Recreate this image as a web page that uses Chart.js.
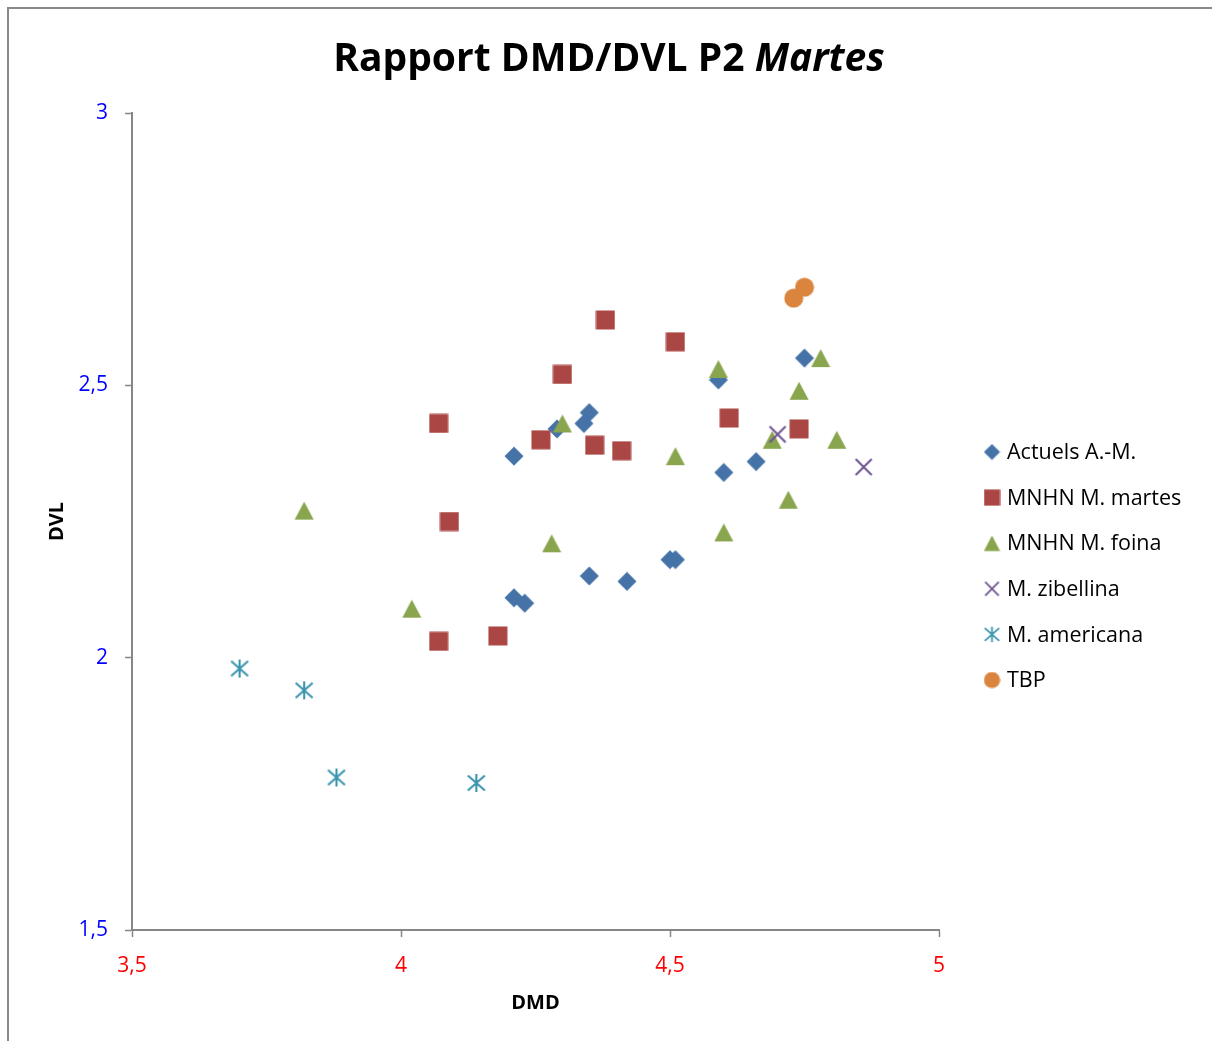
<!DOCTYPE html>
<html>
<head>
<meta charset="utf-8">
<title>Rapport DMD/DVL P2 Martes</title>
<script src="https://cdn.jsdelivr.net/npm/chart.js@4.4.1/dist/chart.umd.min.js"></script>
<style>
  html, body { margin: 0; padding: 0; background: #fff; overflow: hidden; }
  #frame { position: absolute; left: 7px; top: 7px; width: 1300px; height: 1100px; border: 2px solid #898989; }
  #wrap { position: absolute; left: 0; top: 0; width: 1212px; height: 1041px; }
</style>
</head>
<body>
<div id="frame"></div>
<div id="wrap"><canvas id="chart" width="1212" height="1041"></canvas></div>
<script>
// axis ticks
const xTicks = [3.5, 4, 4.5, 5];
const yTicks = [1.5, 2, 2.5, 3];

// DMD (x) / DVL (y) per group
const actuelsDMD = [4.21, 4.29, 4.34, 4.35, 4.59, 4.75, 4.60, 4.66, 4.21, 4.23, 4.35, 4.42, 4.50, 4.51];
const actuelsDVL = [2.37, 2.42, 2.43, 2.45, 2.51, 2.55, 2.34, 2.36, 2.11, 2.10, 2.15, 2.14, 2.18, 2.18];

const martesDMD = [4.38, 4.51, 4.30, 4.07, 4.26, 4.36, 4.41, 4.61, 4.74, 4.09, 4.07, 4.18];
const martesDVL = [2.62, 2.58, 2.52, 2.43, 2.40, 2.39, 2.38, 2.44, 2.42, 2.25, 2.03, 2.04];

const foinaDMD = [3.82, 4.02, 4.28, 4.30, 4.51, 4.59, 4.60, 4.69, 4.74, 4.78, 4.81, 4.72];
const foinaDVL = [2.27, 2.09, 2.21, 2.43, 2.37, 2.53, 2.23, 2.40, 2.49, 2.55, 2.40, 2.29];

const zibellinaDMD = [4.70, 4.86];
const zibellinaDVL = [2.41, 2.35];

const americanaDMD = [3.70, 3.82, 3.88, 4.14];
const americanaDVL = [1.98, 1.94, 1.78, 1.77];

const tbpDMD = [4.73, 4.75];
const tbpDVL = [2.66, 2.68];

const seriesNames = ['Actuels A.-M.', 'MNHN M. martes', 'MNHN M. foina', 'M. zibellina', 'M. americana', 'TBP'];
const seriesX = [actuelsDMD, martesDMD, foinaDMD, zibellinaDMD, americanaDMD, tbpDMD];
const seriesY = [actuelsDVL, martesDVL, foinaDVL, zibellinaDVL, americanaDVL, tbpDVL];

const colors = ['#4572A7', '#AA4643', '#89A54E', '#6E5590', '#3A94AD', '#DB843D'];
const shapes = ['diamond', 'square', 'triangle', 'cross', 'star', 'circle'];

const FONT = '"Open Sans", "DejaVu Sans", sans-serif';

// Excel-like marker drawn on a small canvas, used as pointStyle
function makeMarker(shape, color, scale) {
  const size = Math.round(20 * scale);
  const c = document.createElement('canvas');
  c.width = size;
  c.height = size;
  const g = c.getContext('2d');
  g.scale(scale, scale);
  g.fillStyle = color;
  g.strokeStyle = color;
  g.lineWidth = 2.1;
  g.beginPath();
  switch (shape) {
    case 'diamond':
      g.moveTo(10, 0.5); g.lineTo(19.5, 10); g.lineTo(10, 19.5); g.lineTo(0.5, 10);
      g.closePath(); g.fill();
      break;
    case 'square':
      g.rect(0.5, 0.5, 19, 19); g.fill();
      break;
    case 'triangle':
      g.moveTo(10, 1); g.lineTo(19.5, 19); g.lineTo(0.5, 19);
      g.closePath(); g.fill();
      break;
    case 'cross':
      g.moveTo(2, 2); g.lineTo(18, 18);
      g.moveTo(18, 2); g.lineTo(2, 18);
      g.stroke();
      break;
    case 'star':
      g.moveTo(10, 1); g.lineTo(10, 19);
      g.moveTo(1.5, 2.5); g.lineTo(18.5, 17.5);
      g.moveTo(18.5, 2.5); g.lineTo(1.5, 17.5);
      g.stroke();
      break;
    default:
      g.arc(10, 10, 9.5, 0, Math.PI * 2); g.fill();
  }
  return c;
}

const legendMarkers = shapes.map((s, i) => makeMarker(s, colors[i], 0.85));

const datasets = seriesNames.map((name, i) => ({
  label: name,
  data: seriesX[i].map((x, j) => ({ x: x, y: seriesY[i][j] })),
  pointStyle: makeMarker(shapes[i], colors[i], 1),
  backgroundColor: colors[i],
  borderColor: colors[i],
  // later series sit on top, as in the workbook
  order: seriesNames.length - i
}));

const titlePlugin = {
  id: 'mixedTitle',
  afterDraw(chart) {
    const ctx = chart.ctx;
    const parts = [
      { text: 'Rapport DMD/DVL P2 ', font: 'bold 39px ' + FONT },
      { text: 'Martes', font: 'italic bold 39px ' + FONT }
    ];
    let total = 0;
    parts.forEach(p => { ctx.font = p.font; p.w = ctx.measureText(p.text).width; total += p.w; });
    let x = chart.width / 2 + 3 - total / 2;
    ctx.save();
    ctx.fillStyle = '#000';
    ctx.textBaseline = 'alphabetic';
    ctx.textAlign = 'left';
    parts.forEach(p => { ctx.font = p.font; ctx.fillText(p.text, x, 71); x += p.w; });
    ctx.restore();
  }
};

const legendPlugin = {
  id: 'sideLegend',
  afterDraw(chart) {
    const ctx = chart.ctx;
    const mx = chart.chartArea.right + 53;
    ctx.save();
    ctx.font = '21.5px ' + FONT;
    ctx.fillStyle = '#000';
    ctx.textBaseline = 'middle';
    ctx.textAlign = 'left';
    chart.data.datasets.forEach((ds, i) => {
      const y = 452 + i * 45.6;
      const m = legendMarkers[i];
      ctx.drawImage(m, mx - m.width / 2, y - m.height / 2);
      ctx.fillText(ds.label, mx + 15, y + 1);
    });
    ctx.restore();
  }
};

const commaLabel = v => String(v).replace('.', ',');

new Chart(document.getElementById('chart'), {
  type: 'scatter',
  data: { datasets: datasets },
  options: {
    responsive: false,
    animation: false,
    layout: { padding: { top: 113, right: 273, bottom: 0, left: 1 } },
    plugins: {
      legend: { display: false },
      tooltip: { enabled: false }
    },
    scales: {
      x: {
        type: 'linear',
        min: 3.5,
        max: 5,
        afterBuildTicks: s => { s.ticks = xTicks.map(v => ({ value: v })); },
        afterFit: s => { s.height = 111; },
        border: { color: '#868686', width: 2 },
        grid: { drawOnChartArea: false, tickLength: 7, tickColor: '#868686', tickWidth: 1.5 },
        ticks: { color: '#FF0000', font: { family: FONT, size: 21 }, padding: 16, callback: commaLabel },
        title: {
          display: true, text: 'DMD', color: '#000',
          font: { family: FONT, size: 20, weight: 'bold' },
          padding: { top: 0, bottom: 26 }
        }
      },
      y: {
        type: 'linear',
        min: 1.5,
        max: 3,
        afterBuildTicks: s => { s.ticks = yTicks.map(v => ({ value: v })); },
        afterFit: s => { s.width = 131; },
        border: { color: '#868686', width: 2 },
        grid: { drawOnChartArea: false, tickLength: 7, tickColor: '#868686', tickWidth: 1.5 },
        ticks: { color: '#0000FF', font: { family: FONT, size: 21 }, padding: 17, callback: commaLabel },
        title: {
          display: true, text: 'DVL', color: '#000',
          font: { family: FONT, size: 20, weight: 'bold' },
          padding: { top: 44, bottom: 0 }
        }
      }
    }
  },
  plugins: [titlePlugin, legendPlugin]
});
</script>
</body>
</html>
